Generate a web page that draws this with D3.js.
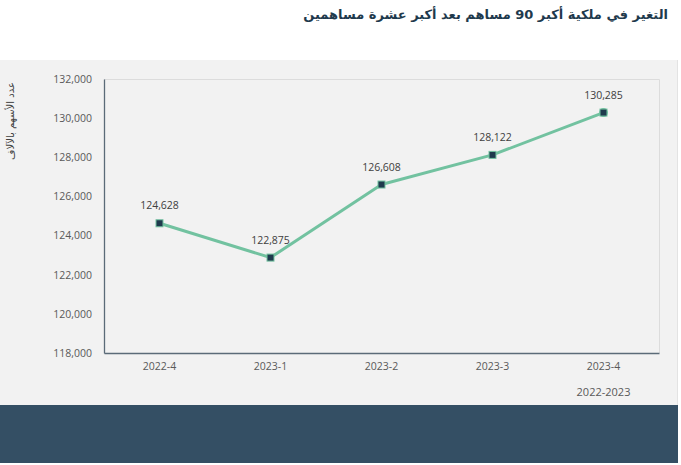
<!DOCTYPE html>
<html>
<head>
<meta charset="utf-8">
<script src="https://cdn.jsdelivr.net/npm/d3@7"></script>
<style>
    body { margin: 0; background: #ffffff; }
    svg { display: block; }
</style>
</head>
<body>
<div id="chartWrapper"></div>
<script>
// data
let quarters = ["2022-4", "2023-1", "2023-2", "2023-3", "2023-4"];
let shares = [124628, 122875, 126608, 128122, 130285];
let yTicks = [118000, 120000, 122000, 124000, 126000, 128000, 130000, 132000];

let titleText = "التغير في ملكية أكبر 90 مساهم بعد أكبر عشرة مساهمين";
let yAxisTitle = "عدد الأسهم بالآلاف";
let xAxisTitle = "2022-2023";

let width = 681, height = 465;
let margins = { t: 79, r: 22, b: 112, l: 104 };

let svg = d3.select('#chartWrapper').append('svg')
    .attr('width', width)
    .attr('height', height);

// panels
svg.append('rect')
    .attr('x', 0).attr('y', 60)
    .attr('width', 678).attr('height', 345)
    .attr('fill', '#f2f2f2');
svg.append('line')
    .attr('x1', 677.5).attr('x2', 677.5).attr('y1', 60).attr('y2', 405)
    .attr('stroke', '#e3e3e3');
svg.append('rect')
    .attr('x', 0).attr('y', 405)
    .attr('width', 678).attr('height', 58)
    .attr('fill', '#344f64');

// title
svg.append('text')
    .attr('x', 668).attr('y', 19)
    .attr('text-anchor', 'start')
    .attr('direction', 'rtl')
    .attr('font-family', "'DejaVu Sans', sans-serif")
    .attr('font-size', 13)
    .attr('font-weight', 'bold')
    .attr('fill', '#1f3a4d')
    .text(titleText);

let xScale = d3.scaleBand()
    .domain(quarters)
    .range([margins.l, width - margins.r]);

let yScale = d3.scaleLinear()
    .domain([118000, 132000])
    .range([height - margins.b, margins.t]);

let plotBottom = height - margins.b;
let plotRight = width - margins.r;

// plot border (light top/right)
svg.append('path')
    .attr('d', `M${margins.l},${margins.t + 0.5}H${plotRight + 0.5}V${plotBottom}`)
    .attr('fill', 'none')
    .attr('stroke', '#dcdcdc');

// axes
let fmt = d3.format(',');
let yAxis = d3.axisLeft(yScale).tickValues(yTicks).tickFormat(fmt).tickSize(0).tickPadding(12);
let xAxis = d3.axisBottom(xScale).tickSize(0).tickPadding(10);

let yG = svg.append('g')
    .attr('transform', `translate(${margins.l},0)`)
    .call(yAxis);
let xG = svg.append('g')
    .attr('transform', `translate(0,${plotBottom})`)
    .call(xAxis);

[yG, xG].forEach(g => {
    g.select('.domain').attr('stroke', '#5b6b78').attr('stroke-width', 1.3);
    g.selectAll('.tick text')
        .attr('font-family', "'Open Sans', sans-serif")
        .attr('font-size', 10.5)
        .attr('fill', '#595959');
});

// axis titles
svg.append('text')
    .attr('transform', `translate(14,121) rotate(-90)`)
    .attr('text-anchor', 'middle')
    .attr('font-family', "'DejaVu Sans', sans-serif")
    .attr('font-size', 10)
    .attr('fill', '#404040')
    .text(yAxisTitle);

svg.append('text')
    .attr('x', xScale(quarters[4]) + xScale.bandwidth() / 2)
    .attr('y', 396)
    .attr('text-anchor', 'middle')
    .attr('font-family', "'Open Sans', sans-serif")
    .attr('font-size', 11)
    .attr('fill', '#595959')
    .text(xAxisTitle);

// line
let points = quarters.map((q, i) => ({ q: q, v: shares[i] }));
let cx = d => xScale(d.q) + xScale.bandwidth() / 2;

let lineGen = d3.line()
    .x(cx)
    .y(d => yScale(d.v));

let lineGroup = svg.append('g');
lineGroup.append('path')
    .datum(points)
    .attr('d', lineGen)
    .attr('fill', 'none')
    .attr('stroke', '#72c2a0')
    .attr('stroke-width', 3)
    .attr('stroke-linejoin', 'round');

// markers (last one sits in a round green halo)
lineGroup.append('circle')
    .datum(points[points.length - 1])
    .attr('cx', cx)
    .attr('cy', d => yScale(d.v))
    .attr('r', 4.5)
    .attr('fill', '#72c2a0');

lineGroup.selectAll('.marker')
    .data(points)
    .join('rect')
    .attr('class', 'marker')
    .attr('x', d => cx(d) - 3.5)
    .attr('y', d => yScale(d.v) - 3.5)
    .attr('width', 7)
    .attr('height', 7)
    .attr('fill', '#1f3a4d')
    .attr('stroke', '#72c2a0')
    .attr('stroke-width', 1);

// data labels
lineGroup.selectAll('.label')
    .data(points)
    .join('text')
    .attr('class', 'label')
    .attr('x', cx)
    .attr('y', d => yScale(d.v) - 14)
    .attr('text-anchor', 'middle')
    .attr('font-family', "'Open Sans', sans-serif")
    .attr('font-size', 10.5)
    .attr('fill', '#404040')
    .text(d => fmt(d.v));
</script>
</body>
</html>
